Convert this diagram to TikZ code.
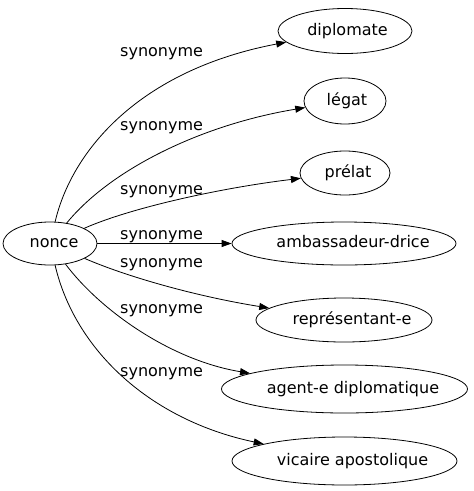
\documentclass[tikz,border=0pt]{standalone}
\usepackage{fontspec}
\setmainfont{DejaVu Sans}
\usetikzlibrary{shapes.geometric,arrows.meta}
\newcommand{\shiftedtext}[2]{\makebox[0pt][c]{\hspace*{#1}#2}}
\begin{document}
\begin{tikzpicture}[x=1pt,y=-1pt,
  word/.style={ellipse,draw,line width=0.8pt,inner sep=0pt,font=\fontsize{16}{19}\selectfont,text height=12pt,text depth=3.5pt},
  lbl/.style={font=\fontsize{16}{19}\selectfont,anchor=base west,inner sep=0pt},
  edge/.style={-{Triangle[length=10pt,width=7pt]},line width=0.8pt}]
\useasboundingbox[fill=white] (0,0) rectangle (474,491);
\node[word,minimum width=94pt,minimum height=43pt] (n) at (50,243.5) {\shiftedtext{8pt}{nonce}};
\node[word,minimum width=134pt,minimum height=45pt] (d) at (345,31) {\shiftedtext{5pt}{diplomate}};
\node[word,minimum width=82pt,minimum height=46pt] (l) at (345,101) {\shiftedtext{4pt}{légat}};
\node[word,minimum width=90pt,minimum height=44pt] (p) at (345,173) {\shiftedtext{6pt}{prélat}};
\node[word,minimum width=224pt,minimum height=43pt] (a) at (344,243.5) {\shiftedtext{18pt}{ambassadeur-drice}};
\node[word,minimum width=176pt,minimum height=44pt] (r) at (344,320) {\shiftedtext{16pt}{représentant-e}};
\node[word,minimum width=246pt,minimum height=48pt] (g) at (344.5,389) {\shiftedtext{17pt}{agent-e diplomatique}};
\node[word,minimum width=225pt,minimum height=48pt] (v) at (344.5,461) {\shiftedtext{16pt}{vicaire apostolique}};
\node[lbl] (l1) at (120,56) {synonyme};
\node[lbl] (l2) at (120,130) {synonyme};
\node[lbl] (l3) at (120,194) {synonyme};
\node[lbl] (l4) at (120,239) {synonyme};
\node[lbl] (l5) at (120,267) {synonyme};
\node[lbl] (l6) at (120,313) {synonyme};
\node[lbl] (l7) at (120,376) {synonyme};
\draw[edge] (n) .. controls (72,150) and (140,70) .. (d);
\draw[edge] (n) .. controls (110,170) and (200,125) .. (l);
\draw[edge] (n) .. controls (130,208) and (220,188) .. (p);
\draw[edge] (n) -- (a);
\draw[edge] (n) .. controls (130,278) and (200,297) .. (r);
\draw[edge] (n) .. controls (100,310) and (170,360) .. (g);
\draw[edge] (n) .. controls (75,350) and (150,420) .. (v);
\end{tikzpicture}
\end{document}
